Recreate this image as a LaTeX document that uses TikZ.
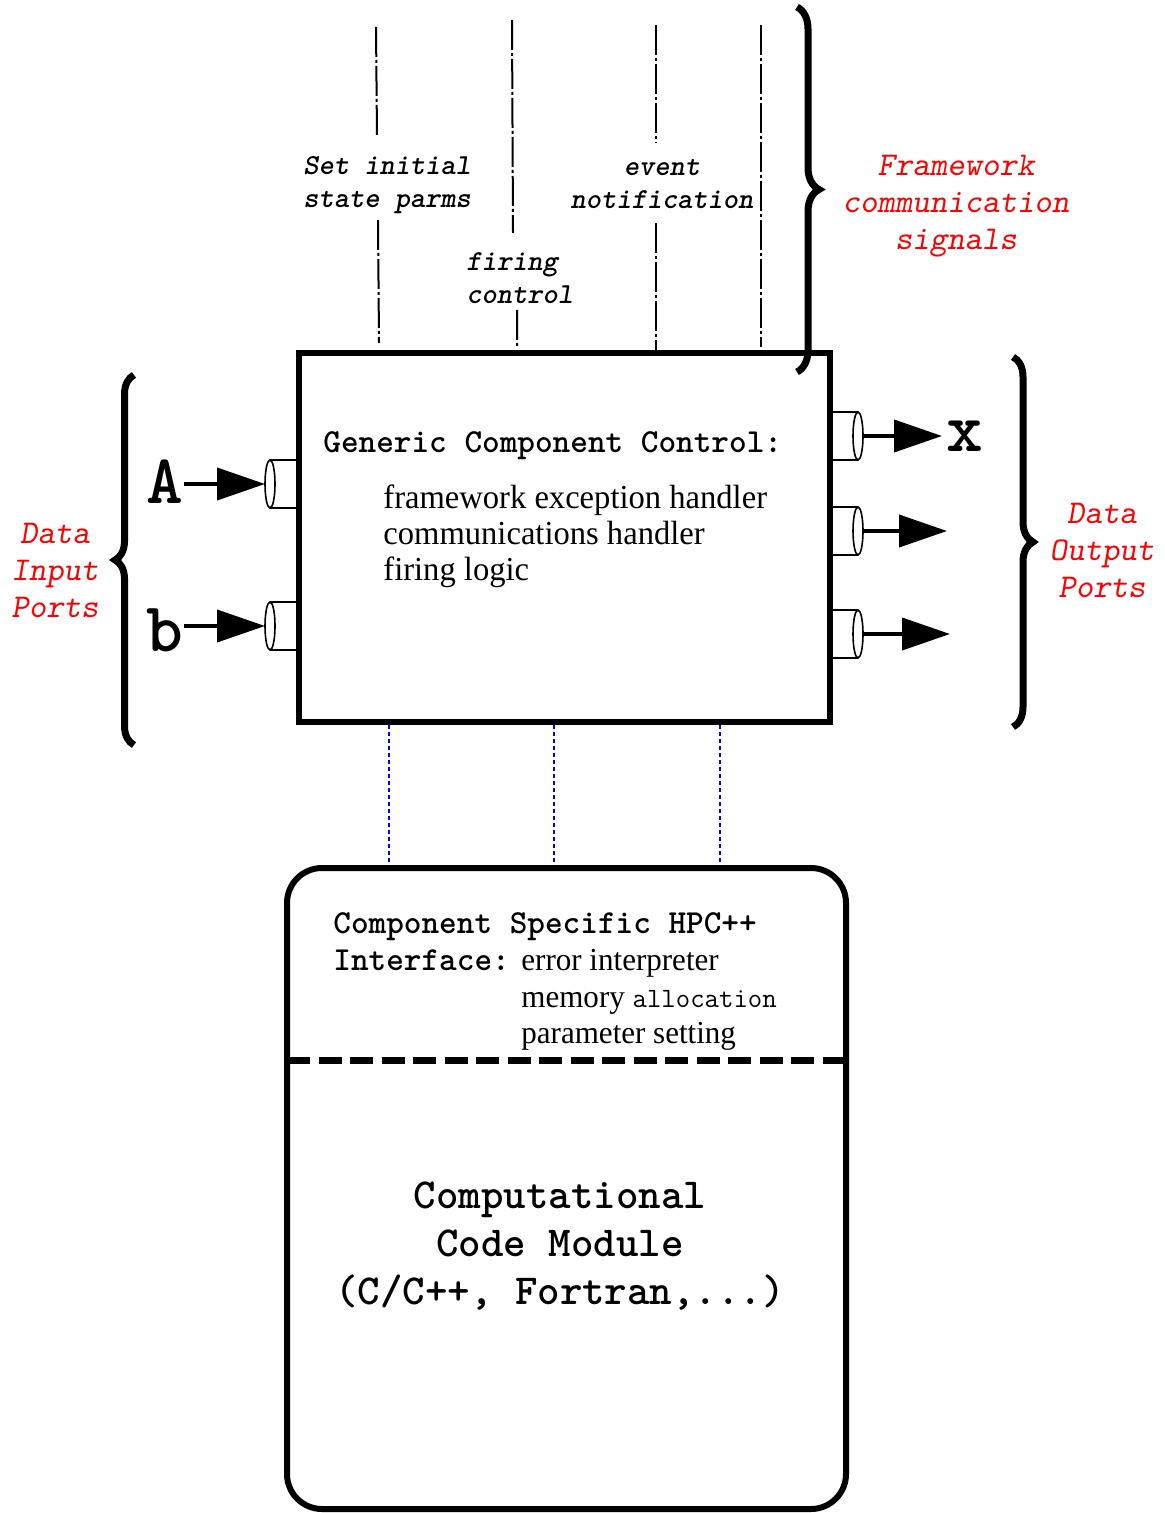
\documentclass[tikz,border=0pt]{standalone}
\usepackage{fontspec}
\setmainfont{Liberation Serif}
\newfontfamily\condserif[FakeStretch=0.97]{Liberation Serif}
\usepackage{xcolor}
\usetikzlibrary{
	positioning,
	arrows.meta,
	decorations.pathreplacing
}
\tikzset{
	boxline/.style={draw,line width=3pt,inner sep=0pt},
	portline/.style={line width=0.8pt},
	flow/.style={line width=2pt,-{Triangle[length=24pt,width=16pt]}},
	signal/.style={line width=1pt,dash pattern=on 15pt off 1.5pt on 1.5pt off 1.5pt},
	link/.style={blue,line width=0.7pt,dash pattern=on 2pt off 1.5pt},
	bracket/.style={line width=3.5pt,decorate,decoration={brace,amplitude=#1}},
	sigtext/.style={inner sep=0pt,font=\ttfamily\bfseries\slshape\fontsize{14.5}{16.5}\selectfont},
	note/.style={inner sep=0pt,red,align=center,font=\ttfamily\slshape\fontsize{16.6}{18.5}\selectfont},
	letter/.style={inner sep=0pt,font=\ttfamily\bfseries\fontsize{35}{35}\selectfont},
	heading/.style={inner sep=0pt,font=\ttfamily\bfseries\fontsize{16.8}{18.5}\selectfont},
	items/.style={inner sep=0pt,align=left,font=\condserif\fontsize{16.8}{18.2}\selectfont}
}
\begin{document}
\begin{tikzpicture}[x=0.5pt,y=-0.5pt]
	\useasboundingbox (0,0) rectangle (1164,1513);

	\draw[signal] (376,27) -- (377,137) (378,220) -- (379,343);
	\draw[signal] (512,20) -- (513,233) (517,310) -- (517,347);
	\draw[signal] (656,25) -- (656,143) (656,223) -- (656,350);
	\draw[signal] (761,25) -- (761,347);

	\node[sigtext,anchor=north west,align=left] (setlbl) at (303,156) {Set initial\\state parms};
	\node[sigtext,anchor=north west,align=left] (firelbl) at (466,252) {firing\\control};
	\node[sigtext,anchor=north,align=center] (eventlbl) at (662,159) {event\\notification};

	\foreach \port/\y in {A/484,b/626}{
		\draw[portline] (299,\y-24) -- (270,\y-24) (270,\y+24) -- (299,\y+24);
		\draw[portline,fill=white] (270,\y) ellipse [x radius=5,y radius=24];
		\coordinate (in\port) at (265,\y);
	}

	\node[boxline,fill=white,minimum width=265.5pt,minimum height=184.5pt] (gcc) at (564.5,537.5) {};
	\node[heading,anchor=base west] (gctl) at (323,452) {Generic Component Control:};
	\node[items,anchor=north west] (gcclist) at (383,484) {framework exception handler\\communications handler\\firing logic};

	\node[letter,anchor=east] (A) at (184,482) {A};
	\node[letter,anchor=east] (b) at (184,630) {b};
	\draw[flow] (A.east |- inA) -- (inA);
	\draw[flow] (b.east |- inb) -- (inb);

	\foreach \port/\y/\t in {1/436/942,2/531/947,3/634/950}{
		\draw[portline] (830,\y-24) -- (858,\y-24) (830,\y+24) -- (858,\y+24);
		\draw[portline,fill=white] (858,\y) ellipse [x radius=5,y radius=24];
		\coordinate (out\port) at (862,\y);
		\coordinate (tip\port) at (\t,\y);
		\draw[flow] (out\port) -- (tip\port);
	}
	\node[letter,right=2pt of tip1] (x) {x};

	\draw[bracket=9.5pt] (134,745) -- (134,375);
	\draw[bracket=10pt] (1013,357) -- (1013,727);
	\draw[bracket=11pt] (797,7) -- (797,372);

	\node[note,anchor=north] (inlbl) at (55,523) {Data\\Input\\Ports};
	\node[note,anchor=north] (outlbl) at (1102,503) {Data\\Output\\Ports};
	\node[note,anchor=north] (fwlbl) at (956,155) {Framework\\communication\\signals};

	\node[boxline,rounded corners=17.5pt,minimum width=279.5pt,minimum height=320.5pt] (ccm) at (566.5,1188.5) {};
	\draw[line width=3.5pt,dash pattern=on 11.5pt off 4.26pt] (287,1060) -- (846,1060);
	\foreach \x in {389,554,720}
		\draw[link] (\x,0 |- gcc.south) -- (\x,0 |- ccm.north);

	\node[heading,anchor=base west] (hpc) at (333,933) {Component Specific HPC++};
	\node[heading,anchor=base west] (iface) at (333,970) {Interface:};
	\node[items,font=\condserif\fontsize{16}{18}\selectfont,anchor=base west] (err) at (521,970) {error interpreter};
	\node[items,font=\condserif\fontsize{16}{18}\selectfont,anchor=base west] (mem) at (521,1007) {memory {\ttfamily\fontsize{14}{16}\selectfont allocation}};
	\node[items,font=\condserif\fontsize{16}{18}\selectfont,anchor=base west] (par) at (521,1043) {parameter setting};

	\node[inner sep=0pt,align=center,font=\ttfamily\bfseries\fontsize{21.4}{24}\selectfont] (code) at (560,1246) {Computational\\Code Module\\(C/C++, Fortran,...)};
\end{tikzpicture}
\end{document}
